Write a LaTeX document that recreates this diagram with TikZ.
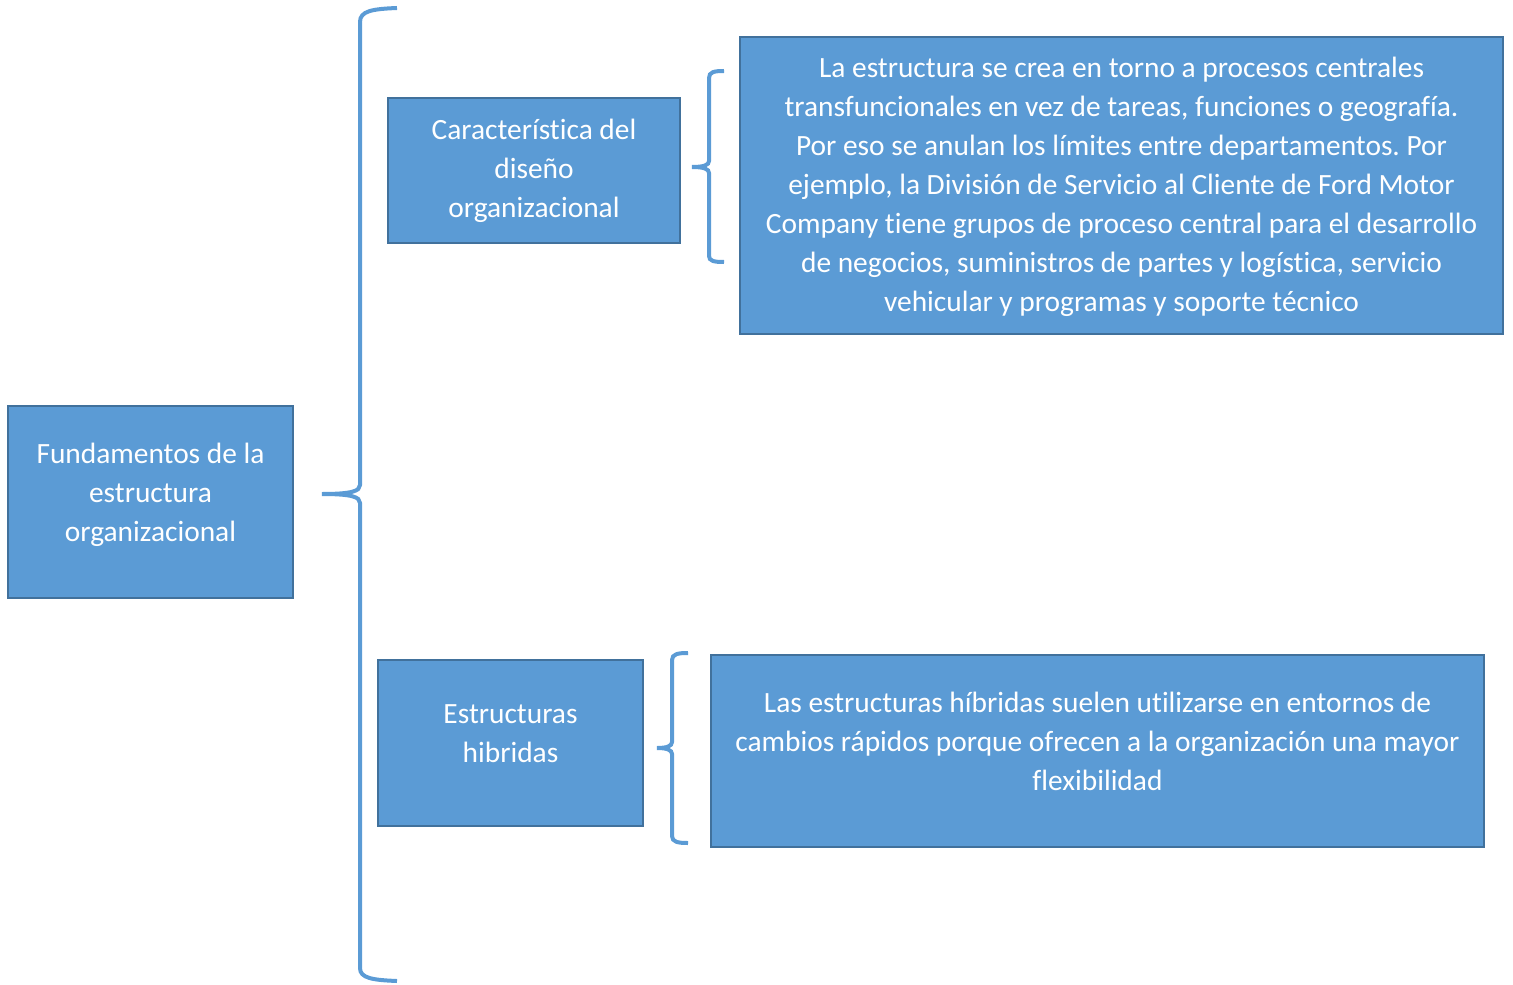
\documentclass[tikz,border=0pt]{standalone}
\usepackage{fontspec}
\setmainfont{Carlito}[Ligatures=NoCommon]
\usetikzlibrary{positioning}
\definecolor{boxfill}{HTML}{5B9BD5}
\definecolor{boxline}{HTML}{41719C}
\frenchspacing

\begin{document}
\begin{tikzpicture}[x=0.5pt, y=-0.5pt,
    box/.style={draw=boxline, line width=1pt, fill=boxfill, inner sep=0pt},
    boxtext/.style={text=white, align=center, inner sep=0pt,
        font=\fontsize{14.7}{19.5}\selectfont},
    curly/.style={draw=boxfill, line width=2pt}]
    \useasboundingbox (0, 0) rectangle (1513, 984);

    % boxes
    \node[box, minimum width=142.5pt, minimum height=96pt] (fund) at (150.5, 502) {};
    \node[box, minimum width=146pt, minimum height=72.5pt] (caract) at (534, 170.5) {};
    \node[box, minimum width=381.5pt, minimum height=148.5pt] (proc) at (1121.5, 185.5) {};
    \node[box, minimum width=132.5pt, minimum height=83pt] (hib) at (510.5, 743) {};
    \node[box, minimum width=386.5pt, minimum height=96pt] (flex) at (1097.5, 751) {};

    % texts
    \node[boxtext] (fundtext) at ([yshift=3.75pt]fund.center)
        {Fundamentos de la\\estructura\\organizacional};
    \node[boxtext] (caracttext) at ([yshift=0pt]caract.center)
        {Característica del\\diseño\\organizacional};
    \node[boxtext] (proctext) at ([yshift=-0.5pt]proc.center)
        {La estructura se crea en torno a procesos centrales\\
         transfuncionales en vez de tareas, funciones o geografía.\\
         Por eso se anulan los límites entre departamentos. Por\\
         ejemplo, la División de Servicio al Cliente de Ford Motor\\
         Company tiene grupos de proceso central para el desarrollo\\
         de negocios, suministros de partes y logística, servicio\\
         vehicular y programas y soporte técnico};
    \node[boxtext] (hibtext) at ([yshift=4.5pt]hib.center)
        {Estructuras\\hibridas};
    \node[boxtext] (flextext) at ([yshift=5pt]flex.center)
        {Las estructuras híbridas suelen utilizarse en entornos de\\
         cambios rápidos porque ofrecen a la organización una mayor\\
         flexibilidad};

    % braces
    \coordinate (tip0) at (322, 494);
    \coordinate (tip1) at (692, 167);
    \coordinate (tip2) at (657, 748);

    \draw[curly]
    (397, 8) .. controls (372, 9) and (360, 11) .. (360, 22) -- (360, 485)
    .. controls (360, 491) and (352, 494) .. (tip0)
    .. controls (352, 494) and (360, 497) .. (360, 503) -- (360, 968)
    .. controls (360, 978) and (372, 980) .. (397, 981);

    \draw[curly]
    (724, 71) .. controls (714, 71) and (709, 72) .. (709, 78) -- (709, 161)
    .. controls (709, 165) and (704, 167) .. (tip1)
    .. controls (704, 167) and (709, 169) .. (709, 173) -- (709, 256)
    .. controls (709, 261) and (714, 262) .. (724, 262);

    \draw[curly]
    (688, 653) .. controls (678, 653) and (672, 654) .. (672, 660) -- (672, 742)
    .. controls (672, 746) and (667, 748) .. (tip2)
    .. controls (667, 748) and (672, 750) .. (672, 754) -- (672, 836)
    .. controls (672, 842) and (678, 843) .. (688, 843);
\end{tikzpicture}
\end{document}
